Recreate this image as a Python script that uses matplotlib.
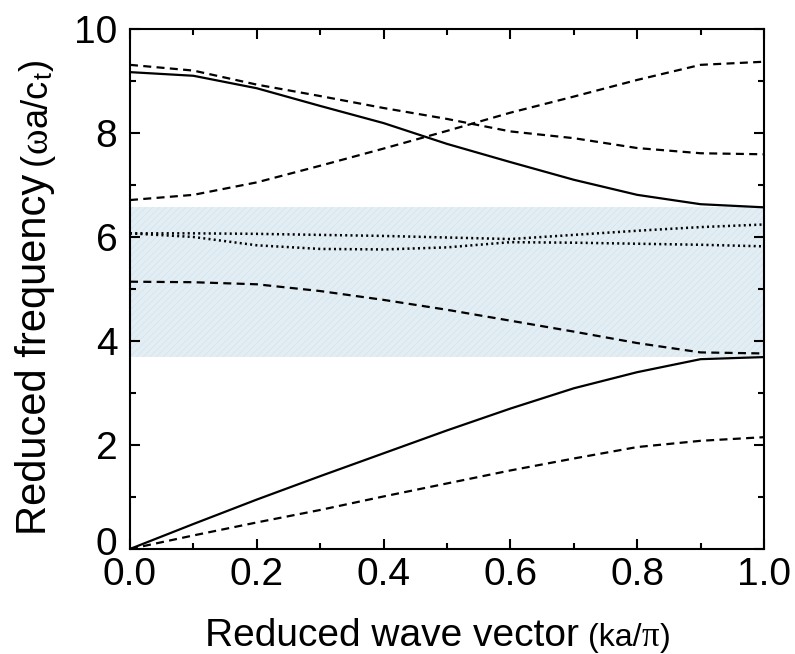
import matplotlib
matplotlib.use("Agg")
import matplotlib.pyplot as plt
from matplotlib.ticker import MultipleLocator, FormatStrFormatter
from matplotlib.transforms import IdentityTransform, ScaledTranslation

plt.rcParams["font.family"] = ["Liberation Sans", "DejaVu Sans"]
plt.rcParams["hatch.linewidth"] = 0.4

# Reduced wave vector grid (ka/pi)
k = [0.0, 0.1, 0.2, 0.3, 0.4, 0.5, 0.6, 0.7, 0.8, 0.9, 1.0]

# Dispersion branches, reduced frequency (omega a / c_t)
acoustic_solid = [0.00, 0.48, 0.95, 1.40, 1.84, 2.28, 2.70, 3.09, 3.40, 3.65, 3.69]
acoustic_dashed = [0.00, 0.26, 0.51, 0.75, 1.01, 1.26, 1.51, 1.74, 1.96, 2.08, 2.15]
gap_dashed = [5.14, 5.13, 5.09, 4.96, 4.79, 4.60, 4.39, 4.18, 3.96, 3.78, 3.76]
gap_dotted_a = [6.07, 6.07, 6.06, 6.04, 6.02, 5.99, 5.96, 6.04, 6.12, 6.19, 6.24]
gap_dotted_b = [6.07, 6.00, 5.84, 5.77, 5.76, 5.80, 5.90, 5.89, 5.87, 5.85, 5.82]
upper_solid = [9.17, 9.10, 8.86, 8.52, 8.19, 7.79, 7.44, 7.10, 6.81, 6.63, 6.57]
upper_dashed_down = [9.31, 9.20, 8.93, 8.71, 8.48, 8.27, 8.03, 7.90, 7.71, 7.61, 7.59]
upper_dashed_up = [6.71, 6.81, 7.05, 7.37, 7.70, 8.04, 8.39, 8.70, 9.02, 9.31, 9.37]

# Band gap limits
gap_low, gap_high = 3.70, 6.58

fig = plt.figure(figsize=(7.95, 6.54), dpi=100)
ax = fig.add_axes([0.1635, 0.1606, 0.7975, 0.7951])

ax.axhspan(gap_low, gap_high, facecolor="#e3eef4", edgecolor="#cfdfe9",
           hatch="/////", linewidth=0, zorder=0)

dash = (0, (3.6, 2.4))
dot = (0, (0.8, 1.3))
lw = 1.6
ax.plot(k, acoustic_solid, color="black", lw=lw, ls="-")
ax.plot(k, acoustic_dashed, color="black", lw=lw, ls=dash)
ax.plot(k, gap_dashed, color="black", lw=lw, ls=dash)
ax.plot(k, gap_dotted_a, color="black", lw=1.8, ls=dot)
ax.plot(k, gap_dotted_b, color="black", lw=1.8, ls=dot)
ax.plot(k, upper_solid, color="black", lw=lw, ls="-")
ax.plot(k, upper_dashed_down, color="black", lw=lw, ls=dash)
ax.plot(k, upper_dashed_up, color="black", lw=lw, ls=dash)

ax.set_xlim(0, 1.0)
ax.set_ylim(0, 10)
ax.xaxis.set_major_locator(MultipleLocator(0.2))
ax.xaxis.set_minor_locator(MultipleLocator(0.1))
ax.yaxis.set_major_locator(MultipleLocator(2))
ax.yaxis.set_minor_locator(MultipleLocator(1))
ax.xaxis.set_major_formatter(FormatStrFormatter("%.1f"))
ax.yaxis.set_major_formatter(FormatStrFormatter("%d"))
ax.tick_params(which="both", direction="in", top=True, right=True, width=1.5)
ax.tick_params(which="major", length=7, labelsize=28)
ax.tick_params(which="minor", length=4.5)
ax.tick_params(axis="x", which="major", pad=6)
ax.tick_params(axis="y", which="major", pad=9)
for s in ax.spines.values():
    s.set_linewidth(1.5)

# lift the y-axis "0" a little so it sits above the "0.0" below it
fig.canvas.draw()
ylabels0 = [t for t in ax.get_yticklabels() if t.get_text() == "0"]
for t in ylabels0:
    t.set_transform(t.get_transform() + ScaledTranslation(0, 6 / 72, fig.dpi_scale_trans))

# Axis titles built from segments of different fonts and sizes
sans = "Liberation Sans"
serif = "Liberation Serif"


def segmented_label(segments, cross, rotation=0, center=0):
    """segments: (text, family, size, baseline_shift_px, gap_px_before)."""
    renderer = fig.canvas.get_renderer()
    items = []
    for text, family, size, shift, gap in segments:
        t = fig.text(0, 0, text, family=family, fontsize=size,
                     rotation=rotation, rotation_mode="anchor",
                     ha="left", va="baseline", transform=IdentityTransform())
        bb = t.get_window_extent(renderer)
        length = bb.height if rotation == 90 else bb.width
        items.append((t, shift, gap, length))
    total = sum(g + L for _, _, g, L in items)
    pos = center - total / 2.0
    for t, shift, gap, length in items:
        pos += gap
        if rotation == 90:
            t.set_position((cross + shift, pos))
        else:
            t.set_position((pos, cross - shift))
        pos += length


H = 654
# x label, baseline measured from the bottom edge
segmented_label([
    ("Reduced wave vector", sans, 28, 0, 0),
    ("(ka/", sans, 23, 0, 9),
    ("\u03c0", serif, 25, 0, 0),
    (")", sans, 23, 0, 1),
], cross=H - 646, rotation=0, center=438)

# y label, reading upward, baseline measured from the left edge
segmented_label([
    ("Reduced frequency", sans, 30, 0, 0),
    ("(", sans, 26, 0, 9),
    ("\u03c9", serif, 28, 0, 0),
    ("a/c", sans, 26, 0, 0),
    ("t", sans, 18, 6, 0),
    (")", sans, 26, 0, 1),
], cross=46, rotation=90, center=H - 297)

fig.savefig("out.png", dpi=100)
